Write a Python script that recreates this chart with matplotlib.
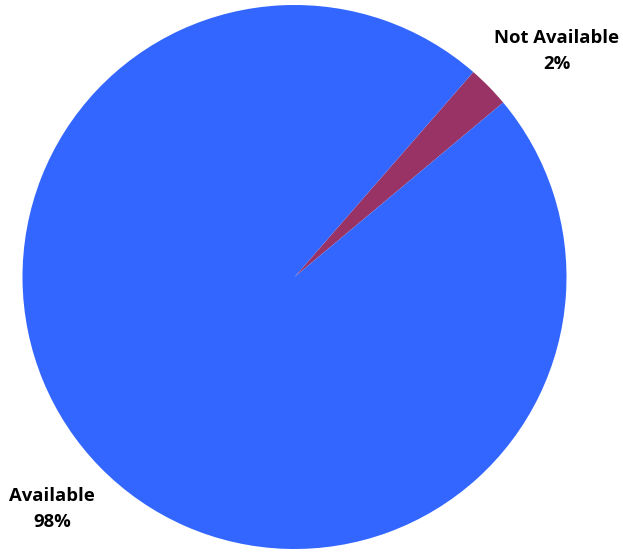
import matplotlib
matplotlib.use("Agg")
import matplotlib.pyplot as plt

categories = ["Not Available", "Available"]
values = [2.5, 97.5]
pct_labels = ["2%", "98%"]
colors = ["#993366", "#3366FF"]

W, H = 623, 552
fig = plt.figure(figsize=(W / 100, H / 100), dpi=100)
cx, cy, r = 294.5, 277, 272
ax = fig.add_axes([(cx - r) / W, (H - cy - r) / H, 2 * r / W, 2 * r / H])
ax.pie(values, colors=colors, startangle=39.9, counterclock=True,
       wedgeprops=dict(linewidth=0))
ax.set_xlim(-1, 1)
ax.set_ylim(-1, 1)
ax.set_aspect("equal")
ax.axis("off")

font = dict(family=["Open Sans", "DejaVu Sans"], fontweight="bold", fontsize=13.3,
            ha="center", va="center", linespacing=1.62, color="#000000")
ax.text((557 - cx) / r, (cy - 51) / r, f"{categories[0]}\n{pct_labels[0]}", **font)
ax.text((52 - cx) / r, (cy - 509) / r, f"{categories[1]}\n{pct_labels[1]}", **font)

fig.savefig("out.png", dpi=100)
